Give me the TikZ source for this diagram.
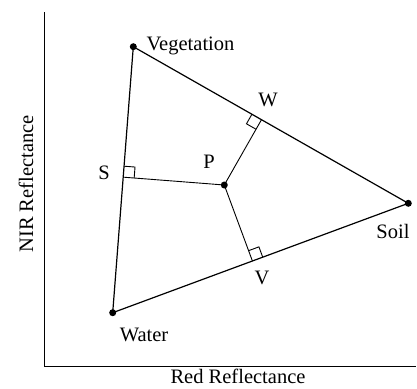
\documentclass[tikz,border=0pt]{standalone}
\usepackage{fontspec}
\setmainfont{Liberation Serif}
\usetikzlibrary{calc}
\begin{document}
\begin{tikzpicture}[x=1pt,y=-1pt,
  edge/.style={line width=1.2pt},
  perp/.style={line width=0.9pt},
  axis/.style={line width=0.9pt},
  dot/.style={circle,fill=black,inner sep=0pt,minimum size=7pt},
  lbl/.style={font=\fontsize{20.5}{24}\selectfont,inner sep=0pt}]
\useasboundingbox (0,0) rectangle (417,388);
% axes
\coordinate (ytop) at (44,12);
\coordinate (orig) at (44,366);
\coordinate (xend) at (416,366);
\draw[axis] (ytop) -- (orig) -- (xend);
\node[lbl] (xlab) at (238,376.5) {Red Reflectance};
\node[lbl,rotate=90] (ylab) at (26,184) {NIR Reflectance};
% vertices
\node[dot] (veg) at (133.3,46.7) {};
\node[dot] (wat) at (112.7,312.7) {};
\node[dot] (soil) at (408.3,203.3) {};
\node[dot] (P) at (224.3,185) {};
\draw[edge] (veg.center) -- (wat.center) -- (soil.center) -- cycle;
% feet
\coordinate (S) at ($(veg.center)!(P.center)!(wat.center)$);
\coordinate (W) at ($(veg.center)!(P.center)!(soil.center)$);
\coordinate (V) at ($(wat.center)!(P.center)!(soil.center)$);
\draw[perp] (P.center) -- (S);
\draw[perp] (P.center) -- (W);
\draw[perp] (P.center) -- (V);
% right angle marks
\draw[perp] ($(S)!11pt!(veg.center)$) -- ($($(S)!11pt!(veg.center)$)+($(S)!11pt!(P.center)$)-(S)$) -- ($(S)!11pt!(P.center)$);
\draw[perp] ($(W)!11pt!(veg.center)$) -- ($($(W)!11pt!(veg.center)$)+($(W)!11pt!(P.center)$)-(W)$) -- ($(W)!11pt!(P.center)$);
\draw[perp] ($(V)!11pt!(soil.center)$) -- ($($(V)!11pt!(soil.center)$)+($(V)!11pt!(P.center)$)-(V)$) -- ($(V)!11pt!(P.center)$);
% labels
\node[lbl,anchor=west] (lveg) at (146.5,46) {Vegetation};
\node[lbl] (lW) at (268,100) {W};
\node[lbl] (lS) at (104,173) {S};
\node[lbl] (lP) at (209,162) {P};
\node[lbl] (lV) at (262,278) {V};
\node[lbl] (lsoil) at (393,231) {Soil};
\node[lbl] (lwat) at (144,335) {Water};
\end{tikzpicture}
\end{document}
